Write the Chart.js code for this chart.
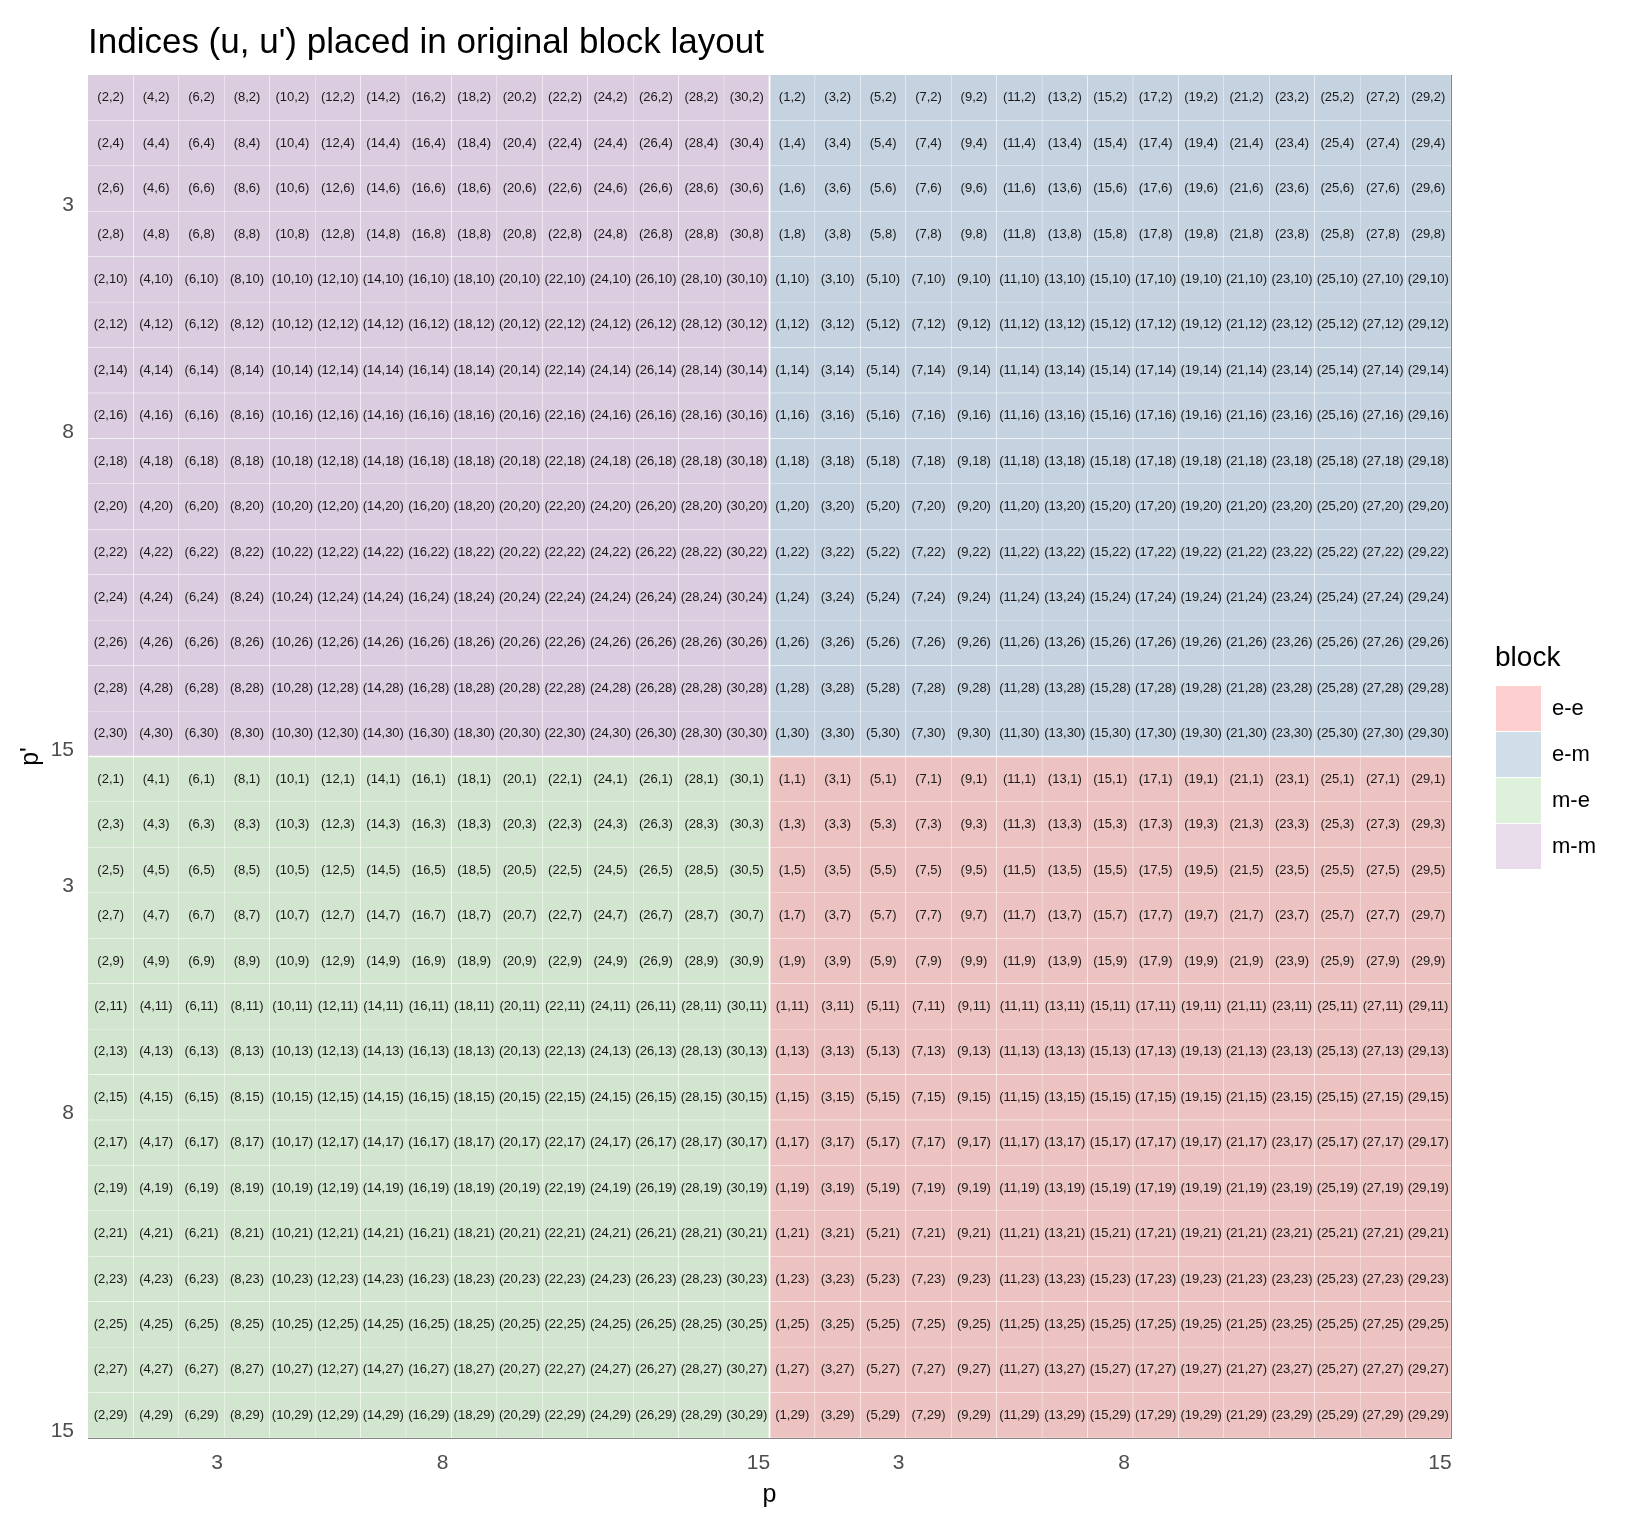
<!DOCTYPE html>
<html>
<head>
<meta charset="utf-8">
<title>Indices (u, u') placed in original block layout</title>
<script src="https://cdn.jsdelivr.net/npm/chart.js@4.4.1/dist/chart.umd.min.js"></script>
<style>
  html, body { margin: 0; padding: 0; background: #fff; }
  #wrap { width: 1632px; height: 1536px; position: relative; }
</style>
</head>
<body>
<div id="wrap"><canvas id="chart"></canvas></div>
<script>
// column order: even u first, then odd u
const colU = [2, 4, 6, 8, 10, 12, 14, 16, 18, 20, 22, 24, 26, 28, 30,
              1, 3, 5, 7, 9, 11, 13, 15, 17, 19, 21, 23, 25, 27, 29];
// row order (top to bottom): even u' first, then odd u'
const rowU = [2, 4, 6, 8, 10, 12, 14, 16, 18, 20, 22, 24, 26, 28, 30,
              1, 3, 5, 7, 9, 11, 13, 15, 17, 19, 21, 23, 25, 27, 29];
const blockNames = ['e-e', 'e-m', 'm-e', 'm-m'];
const tileColors = ['#EDC3C1', '#C5D2DF', '#D2E5CF', '#DBCCDF'];
const legendColors = ['#FDD0CF', '#D0DEEA', '#DEF2DB', '#E8DCEB'];
const pTicks = [3, 8, 15];       // tick values shown in each half
const HALF = 15;                 // cells per half

// where tick p of a half lands on the cell axis (cell k spans k-1..k)
const xTickPos = (off, p) => off + 0.993 * p - 0.14;
const yTickPos = (off, p) => off + p - 0.14;

// block of an index pair: odd -> e, even -> m
function blockOf(u, v) {
  return (u % 2 ? 'e' : 'm') + '-' + (v % 2 ? 'e' : 'm');
}

// one dataset per block, one floating bar per cell
const datasets = blockNames.map((name, i) => {
  const cells = [];
  colU.forEach((u, c) => {
    rowU.forEach((v, r) => {
      if (blockOf(u, v) !== name) return;
      cells.push({ x: c + 0.5, y: [r, r + 1], c, r, label: `(${u},${v})` });
    });
  });
  return {
    label: name,
    data: cells,
    backgroundColor: tileColors[i],
    borderColor: 'rgba(255,255,255,0.8)',
    borderSkipped: false,
    borderWidth: (ctx) => {
      const d = ctx.raw;
      if (!d) return 0;
      return {
        left: d.c === HALF ? 1.2 : 0.5,
        right: d.c === HALF - 1 ? 1.2 : 0.5,
        top: d.r === HALF ? 1.2 : 0.5,
        bottom: d.r === HALF - 1 ? 1.2 : 0.5
      };
    },
    grouped: false,
    barPercentage: 1,
    categoryPercentage: 1
  };
});

// tick positions for both halves
const xTickVals = [];
const yTickVals = [];
const tickText = [];
[0, HALF].forEach(off => {
  pTicks.forEach(p => {
    xTickVals.push(xTickPos(off, p));
    yTickVals.push(yTickPos(off, p));
    tickText.push(String(p));
  });
});

// labels inside each tile
const tileText = {
  id: 'tileText',
  afterDatasetsDraw(chart) {
    const ctx = chart.ctx;
    ctx.save();
    ctx.font = '13px "Liberation Sans", Arial, sans-serif';
    ctx.fillStyle = '#1a1a1a';
    ctx.textAlign = 'center';
    ctx.textBaseline = 'middle';
    chart.data.datasets.forEach((ds, i) => {
      const meta = chart.getDatasetMeta(i);
      meta.data.forEach((el, j) => {
        const yMid = (el.y + el.base) / 2;
        ctx.fillText(ds.data[j].label, el.x, yMid);
      });
    });
    ctx.restore();
  }
};

Chart.defaults.font.family = '"Liberation Sans", Arial, sans-serif';

const borderStyle = { display: true, color: '#858585', width: 1 };
const noGrid = { display: false, drawTicks: false };

new Chart(document.getElementById('chart').getContext('2d'), {
  type: 'bar',
  data: { datasets },
  options: {
    responsive: true,
    maintainAspectRatio: false,
    animation: false,
    layout: { padding: { left: 0, right: 26, top: 0, bottom: 0 } },
    plugins: {
      tooltip: { enabled: false },
      title: {
        display: true,
        text: "Indices (u, u') placed in original block layout",
        align: 'start',
        fullSize: false,
        color: '#000',
        font: { size: 35, weight: 'normal' },
        padding: { top: 22, bottom: 11 }
      },
      legend: {
        position: 'right',
        align: 'center',
        fullSize: false,
        title: {
          display: true,
          text: 'block',
          position: 'start',
          color: '#000',
          font: { size: 28 },
          padding: { top: 1, bottom: 7.4 }
        },
        labels: {
          boxWidth: 45,
          boxHeight: 45,
          padding: 1,
          color: '#000',
          font: { size: 22 },
          generateLabels: () => blockNames.map((n, i) => ({
            text: n,
            fillStyle: legendColors[i],
            strokeStyle: legendColors[i],
            lineWidth: 0,
            hidden: false,
            datasetIndex: i,
            fontColor: '#000'
          }))
        }
      }
    },
    scales: {
      x: {
        type: 'linear',
        position: 'bottom',
        offset: false,
        min: 0,
        max: 2 * HALF,
        grid: noGrid,
        border: borderStyle,
        afterBuildTicks: (s) => { s.ticks = xTickVals.map(v => ({ value: v })); },
        afterFit: (s) => { s.height = 98; },
        ticks: {
          autoSkip: false,
          maxRotation: 0,
          padding: 13,
          color: '#4d4d4d',
          font: { size: 21 },
          callback: (v, i) => tickText[i]
        },
        title: {
          display: true,
          text: 'p',
          color: '#000',
          font: { size: 25 },
          padding: { top: 4, bottom: 26 }
        }
      },
      y: {
        type: 'linear',
        position: 'left',
        reverse: true,
        min: 0,
        max: 2 * HALF,
        grid: noGrid,
        border: borderStyle,
        afterBuildTicks: (s) => { s.ticks = yTickVals.map(v => ({ value: v })); },
        afterFit: (s) => { s.width = 88; },
        ticks: {
          autoSkip: false,
          padding: 14,
          color: '#4d4d4d',
          font: { size: 21 },
          callback: (v, i) => tickText[i]
        },
        title: {
          display: true,
          text: "p'",
          color: '#000',
          font: { size: 25 },
          padding: { top: 16, bottom: 4 }
        }
      },
      xTop: {
        type: 'linear',
        position: 'top',
        offset: false,
        min: 0,
        max: 2 * HALF,
        grid: noGrid,
        border: borderStyle,
        ticks: { display: false },
        afterFit: (s) => { s.height = 0; }
      },
      yRight: {
        type: 'linear',
        position: 'right',
        min: 0,
        max: 2 * HALF,
        grid: noGrid,
        border: borderStyle,
        ticks: { display: false },
        afterFit: (s) => { s.width = 44; }
      }
    }
  },
  plugins: [tileText]
});
</script>
</body>
</html>
